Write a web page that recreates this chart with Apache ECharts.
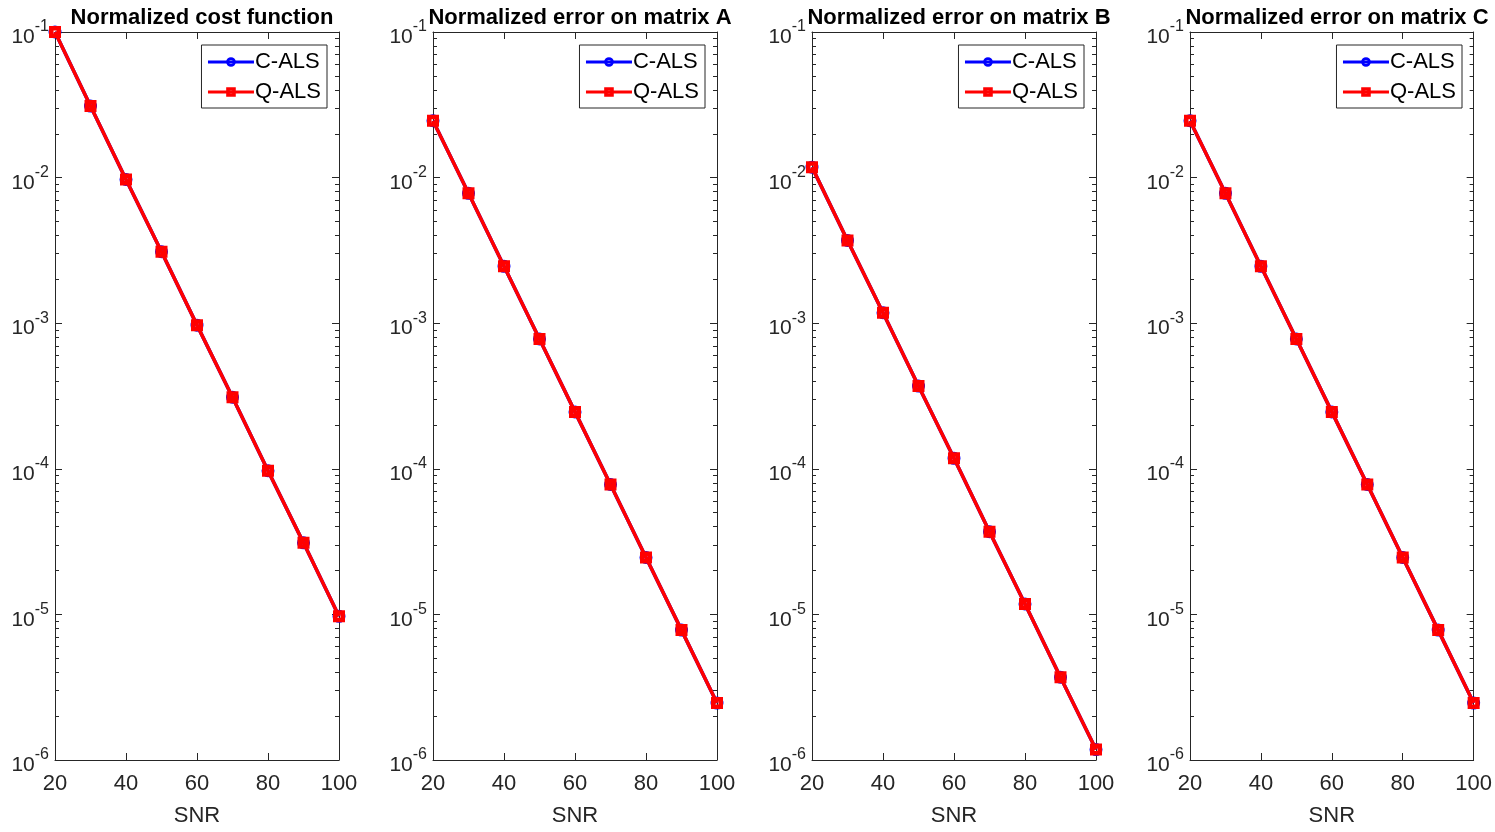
<!DOCTYPE html>
<html>
<head>
<meta charset="utf-8">
<script src="https://cdn.jsdelivr.net/npm/echarts@6/dist/echarts.min.js"></script>
<style>
  html, body { margin: 0; padding: 0; background: #fff; }
  #main { width: 1495px; height: 832px; }
</style>
</head>
<body>
<div id="main"></div>
<script>
// data
var snr = [20, 30, 40, 50, 60, 70, 80, 90, 100];
var titles = ['Normalized cost function', 'Normalized error on matrix A',
              'Normalized error on matrix B', 'Normalized error on matrix C'];
var costC = [0.1, 0.031, 0.0097, 0.0031, 0.00097, 0.00031, 0.000097, 0.000031, 0.0000097];
var costQ = [0.1, 0.031, 0.0097, 0.0031, 0.00097, 0.00031, 0.000097, 0.000031, 0.0000097];
var errAC = [0.0246, 0.0078, 0.00246, 0.00078, 0.000246, 0.000078, 0.0000246, 0.0000078, 0.00000246];
var errAQ = [0.0246, 0.0078, 0.00246, 0.00078, 0.000246, 0.000078, 0.0000246, 0.0000078, 0.00000246];
var errBC = [0.0118, 0.0037, 0.00118, 0.00037, 0.000118, 0.000037, 0.0000118, 0.0000037, 0.00000118];
var errBQ = [0.0118, 0.0037, 0.00118, 0.00037, 0.000118, 0.000037, 0.0000118, 0.0000037, 0.00000118];
var errCC = [0.0246, 0.0078, 0.00246, 0.00078, 0.000246, 0.000078, 0.0000246, 0.0000078, 0.00000246];
var errCQ = [0.0246, 0.0078, 0.00246, 0.00078, 0.000246, 0.000078, 0.0000246, 0.0000078, 0.00000246];
var cals = [costC, errAC, errBC, errCC];
var qals = [costQ, errAQ, errBQ, errCQ];
var xTicks = [20, 40, 60, 80, 100];
var yMajor = [1e-6, 1e-5, 1e-4, 1e-3, 1e-2, 1e-1];

var myChart = echarts.init(document.getElementById('main'));

// minor ticks 2..9 of every decade
var yMinor = [];
for (var d = 0; d < yMajor.length - 1; d++) {
    for (var m = 2; m <= 9; m++) {
        yMinor.push(m * yMajor[d]);
    }
}

var axisColor = '#262626';
var font = 'Liberation Sans';
var lefts = [55, 433, 812, 1190];
var plotW = 284;

// thick hollow markers (ring / square frame with a small hole)
var ringSymbol = 'path://M0,6.5A6.5,6.5 0 1,1 13,6.5A6.5,6.5 0 1,1 0,6.5Z' +
                 'M3.8,6.5A2.7,2.7 0 1,0 9.2,6.5A2.7,2.7 0 1,0 3.8,6.5Z';
var frameSymbol = 'path://M0,0H12V12H0Z M4.5,4.5V7.5H7.5V4.5Z';

var grids = [], xAxes = [], yAxes = [], series = [], legends = [], titleList = [];

function pair(data) {
    return snr.map(function (s, i) { return [s, data[i]]; });
}

function supLabel(v) {
    var e = Math.round(Math.log10(v));
    return '{b|10}{s|' + e + '}';
}

function logAxis(p, pos, len, ticks, labels) {
    return {
        type: 'log', logBase: 10, gridIndex: p, min: 1e-6, max: 1e-1, position: pos,
        axisLine: { show: len > 5, lineStyle: { color: axisColor, width: 1 } },
        axisTick: { show: true, inside: true, length: len, customValues: ticks, lineStyle: { color: axisColor } },
        axisLabel: labels ? {
            color: axisColor, margin: 6, customValues: yMajor,
            formatter: supLabel,
            rich: {
                b: { fontSize: 21, color: axisColor, fontFamily: font, lineHeight: 32, verticalAlign: 'bottom' },
                s: { fontSize: 16, color: axisColor, fontFamily: font, lineHeight: 16, verticalAlign: 'top', padding: [3, 0, 0, 0] }
            }
        } : { show: false },
        splitLine: { show: false }
    };
}

for (var p = 0; p < 4; p++) {
    grids.push({ left: lefts[p], top: 32, width: plotW, height: 730 });

    // bottom + top x axes
    xAxes.push({
        type: 'value', gridIndex: p, min: 20, max: 100, interval: 20,
        name: 'SNR', nameLocation: 'middle', nameGap: 45,
        nameTextStyle: { color: axisColor, fontSize: 22, fontFamily: font },
        axisLine: { show: true, lineStyle: { color: axisColor, width: 1 } },
        axisTick: { show: true, inside: true, length: 7, lineStyle: { color: axisColor } },
        axisLabel: { color: axisColor, fontSize: 22, margin: 13, fontFamily: font },
        splitLine: { show: false }
    });
    xAxes.push({
        type: 'value', gridIndex: p, min: 20, max: 100, interval: 20, position: 'top',
        axisLine: { show: true, lineStyle: { color: axisColor, width: 1 } },
        axisTick: { show: true, inside: true, length: 7, lineStyle: { color: axisColor } },
        axisLabel: { show: false },
        splitLine: { show: false }
    });

    // left major (labelled), left minor, right major, right minor
    yAxes.push(logAxis(p, 'left', 7, yMajor, true));
    yAxes.push(logAxis(p, 'left', 4, yMinor, false));
    yAxes.push(logAxis(p, 'right', 7, yMajor, false));
    yAxes.push(logAxis(p, 'right', 4, yMinor, false));

    series.push({
        name: 'C-ALS', type: 'line', xAxisIndex: p * 2, yAxisIndex: p * 4,
        data: pair(cals[p]),
        symbol: ringSymbol, symbolSize: 13,
        lineStyle: { color: '#0000ff', width: 3.5 },
        itemStyle: { color: '#0000ff' },
        z: 3
    });
    series.push({
        name: 'Q-ALS', type: 'line', xAxisIndex: p * 2, yAxisIndex: p * 4,
        data: pair(qals[p]),
        symbol: frameSymbol, symbolSize: 12,
        lineStyle: { color: '#ff0000', width: 3.5 },
        itemStyle: { color: '#ff0000' },
        z: 4
    });

    legends.push({
        data: ['C-ALS', 'Q-ALS'],
        orient: 'vertical',
        right: 1495 - (lefts[p] + plotW - 12), top: 45,
        backgroundColor: '#fff',
        borderColor: axisColor, borderWidth: 1, borderRadius: 0,
        padding: [6, 6, 5, 5],
        itemWidth: 46, itemHeight: 12, itemGap: 8,
        selectedMode: false,
        lineStyle: { width: 3 },
        textStyle: { fontSize: 22, color: '#000', fontFamily: font, lineHeight: 22, padding: [0, 0, 0, -4] }
    });

    titleList.push({
        text: titles[p],
        left: lefts[p] + plotW / 2, top: 2, textAlign: 'center',
        textStyle: { fontSize: 22, fontWeight: 'bold', color: '#000', fontFamily: font }
    });
}

var option = {
    animation: false,
    title: titleList,
    legend: legends,
    grid: grids,
    xAxis: xAxes,
    yAxis: yAxes,
    series: series
};

myChart.setOption(option);
</script>
</body>
</html>
